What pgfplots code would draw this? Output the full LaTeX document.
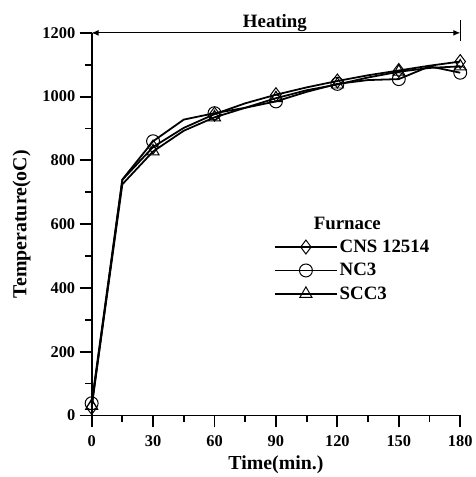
\documentclass[border=0pt]{standalone}
\usepackage{pgfplots}
\pgfplotsset{compat=1.18}
\usepackage{fontspec}
\setmainfont{Liberation Serif}
\usetikzlibrary{arrows.meta}
\begin{document}
\begin{tikzpicture}
\begin{axis}[
  scale only axis, width=370bp, height=384bp,
  xmin=0, xmax=180, ymin=0, ymax=1200,
  axis lines=left,
  axis line style={line width=1.8pt,-},
  xtick={0,30,...,180}, ytick={0,200,...,1200},
  minor xtick={15,45,...,165}, minor ytick={100,300,...,1100},
  tick align=outside,
  major tick length=12bp, minor tick length=6.5bp,
  xtick style={draw=black, line width=1.8pt},
  ytick style={draw=black, line width=1.8pt},
  xticklabel={\pgfmathprintnumber{\tick}},
  yticklabel={\pgfmathprintnumber{\tick}},
  /pgf/number format/assume math mode=true,
  /pgf/number format/1000 sep={},
  tick label style={font=\fontsize{16.5}{18}\selectfont\bfseries},
  xticklabel style={yshift=-5bp},
  yticklabel style={xshift=-1bp},
  label style={font=\fontsize{20}{22}\selectfont\bfseries},
  xlabel={Time(min.)}, ylabel={Temperature(oC)},
  xlabel style={yshift=-2bp},
  ylabel style={yshift=5bp},
  clip=false,
  legend style={draw=none, fill=none, at={(rel axis cs:0.4946,0.525)}, anchor=north west,
    font=\fontsize{19}{21}\selectfont\bfseries, inner sep=0pt,
    row sep=5.5bp, cells={anchor=west}},
  legend image code/.code={\draw[mark repeat=2,mark phase=2,#1] plot coordinates {(0bp,0bp) (31bp,0bp) (62bp,0bp)};},
]
\path (rel axis cs:0,0) ++(-92bp,-58bp) (rel axis cs:1,1) ++(15bp,33bp);
\addlegendimage{empty legend}
\addlegendentry{\hspace{-26bp}Furnace}
\addplot[black, line width=1.8pt, mark=diamond, mark repeat=2, mark size=7bp, mark options={solid, line width=1pt, fill=white}] coordinates {
(0,25) (15,739) (30,842) (45,902) (60,945) (75,979) (90,1006) (105,1029) (120,1049) (135,1067) (150,1082) (165,1097) (180,1110)};
\addlegendentry{CNS 12514}
\addplot[black, line width=1.8pt, mark=o, mark repeat=2, mark size=6.5bp, mark options={solid, line width=1pt}] coordinates {
(0,38) (15,740) (30,860) (45,928) (60,948) (75,965) (90,985) (105,1015) (120,1040) (135,1052) (150,1055) (165,1095) (180,1075)};
\addlegendentry{NC3}
\addplot[black, line width=1.8pt, mark=triangle, mark repeat=2, mark size=7bp, mark options={solid, line width=1pt}] coordinates {
(0,30) (15,725) (30,828) (45,893) (60,935) (75,965) (90,995) (105,1020) (120,1038) (135,1060) (150,1078) (165,1090) (180,1095)};
\addlegendentry{SCC3}
\draw[line width=1pt, {Latex[length=7bp,width=6bp]}-{Latex[length=7bp,width=6bp]}] (axis cs:0,1200) -- (axis cs:180,1200);
\draw[line width=1pt] (axis cs:180,1175) -- (axis cs:180,1240);
\node[anchor=base, inner sep=0pt, font=\fontsize{19}{21}\selectfont\bfseries] at ([yshift=5bp]axis cs:89.5,1200) {Heating};
\end{axis}
\end{tikzpicture}
\end{document}
